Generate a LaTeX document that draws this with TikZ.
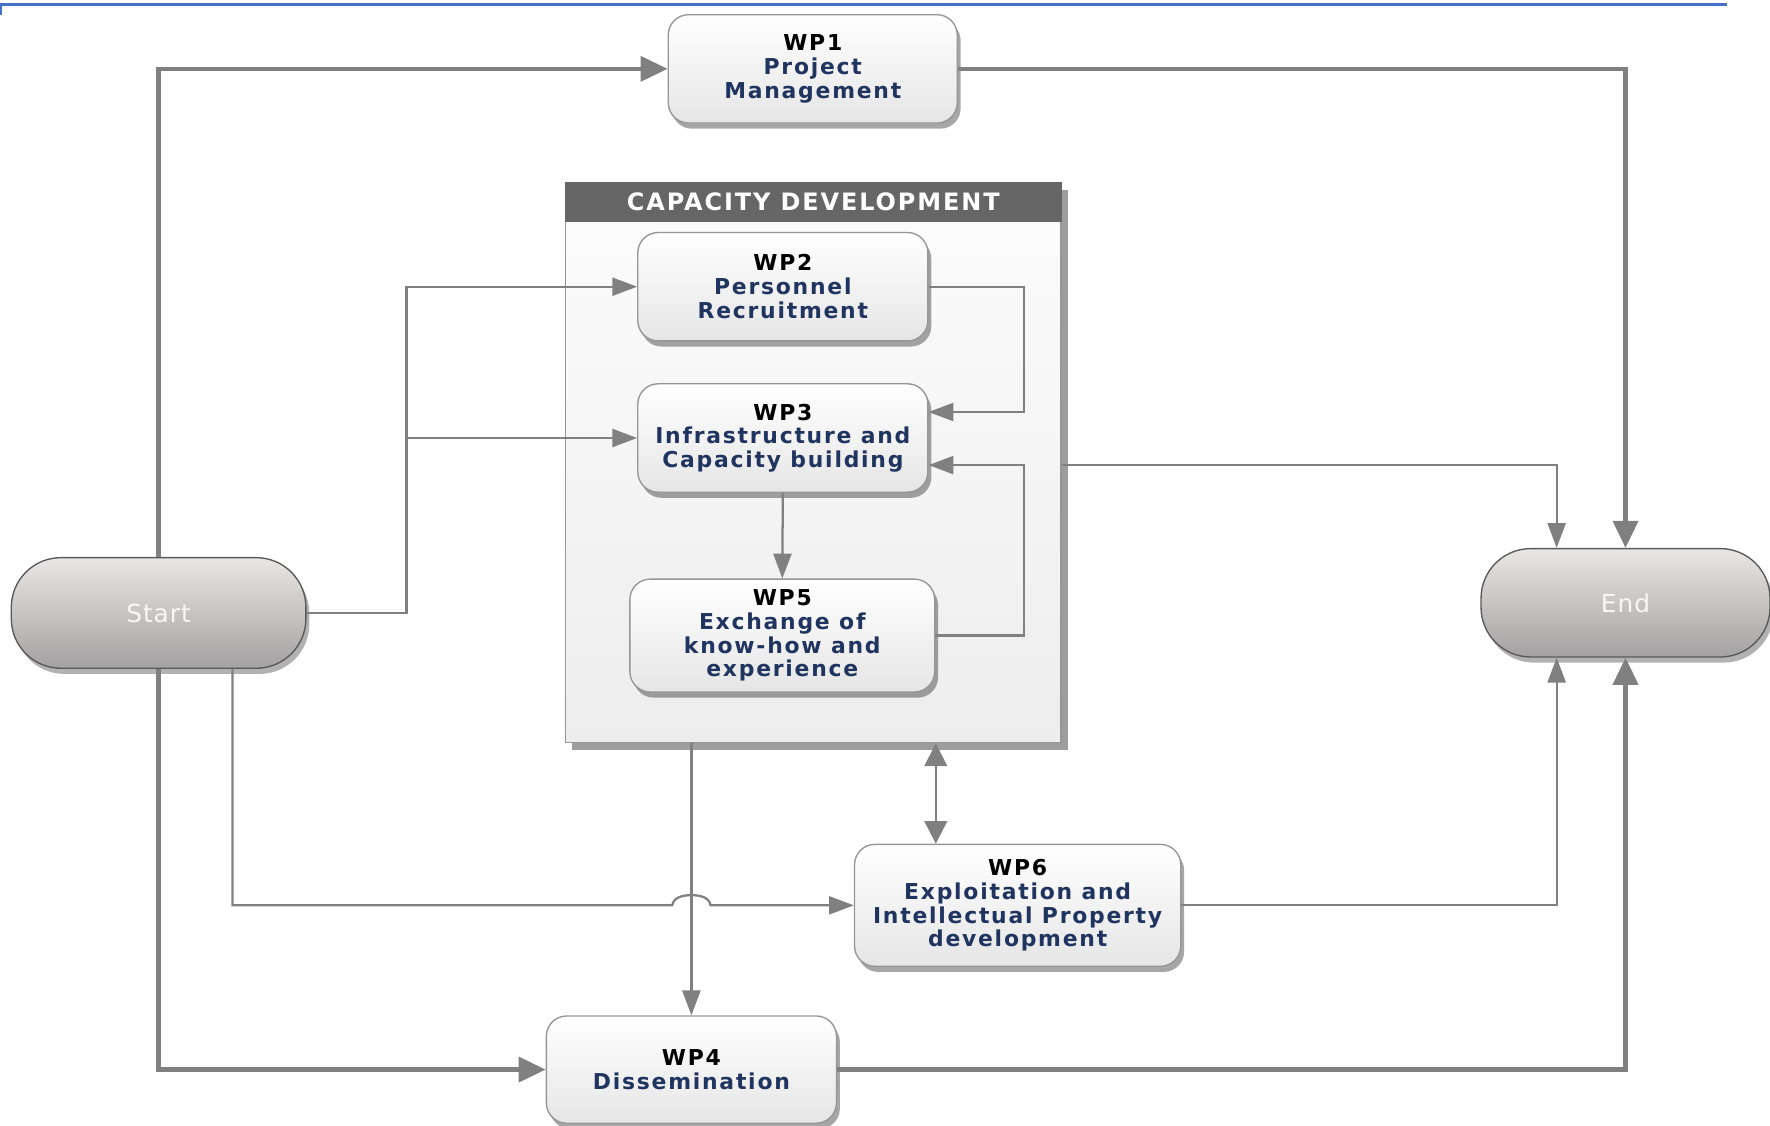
\documentclass[tikz,border=0pt]{standalone}
\usepackage{fontspec}
\setmainfont{DejaVu Sans}
\newfontfamily\wpfont[LetterSpace=8]{DejaVu Sans}
\newfontfamily\hdfont[LetterSpace=8]{DejaVu Sans}
\newfontfamily\sefont[LetterSpace=4]{DejaVu Sans}
\usetikzlibrary{arrows.meta,shadows,calc}
\definecolor{lnGray}{RGB}{128,128,128}
\definecolor{txBlue}{RGB}{32,52,96}
\definecolor{bdGray}{RGB}{150,150,150}
\definecolor{hdGray}{RGB}{102,102,102}
\definecolor{topBlue}{RGB}{68,114,196}
\definecolor{seTop}{RGB}{234,230,230}
\definecolor{seBot}{RGB}{163,161,161}
\begin{document}
\begin{tikzpicture}[x=0.5pt,y=-0.5pt,
  wpbox/.style={draw=bdGray, line width=0.6pt, rounded corners=9pt,
    top color=white, bottom color=gray!20,
    drop shadow={shadow xshift=1.5pt, shadow yshift=-2.5pt, fill=black, opacity=0.35},
    align=center, inner sep=0pt, text=txBlue,
    font=\wpfont\bfseries\fontsize{9.7}{10.5}\selectfont},
  sebox/.style={draw=gray!70!black, line width=0.6pt, rounded corners=22pt,
    top color=seTop, bottom color=seBot,
    drop shadow={shadow xshift=1.5pt, shadow yshift=-2.5pt, fill=black, opacity=0.3},
    inner sep=0pt, text=white!94!gray,
    font=\sefont\fontsize{11}{13}\selectfont},
  capbox/.style={draw=bdGray, line width=0.6pt, top color=gray!2, bottom color=gray!14,
    drop shadow={shadow xshift=3pt, shadow yshift=-3pt, fill=black!70, opacity=0.55},
    inner sep=0pt},
  hdbox/.style={fill=hdGray, draw=hdGray, inner sep=0pt, text=white,
    font=\hdfont\bfseries\fontsize{10.6}{12}\selectfont},
  thickln/.style={draw=lnGray, line width=2pt, -{Triangle[length=12pt,width=11pt]}},
  thinln/.style={draw=lnGray, line width=1pt, -{Triangle[length=11pt,width=8pt]}},
  dblln/.style={draw=lnGray, line width=1pt, {Triangle[length=10pt,width=10pt]}-{Triangle[length=10pt,width=10pt]}}
]
\useasboundingbox (0,0) rectangle (1568,997);

% top rule
\draw[topBlue, line width=1pt] (0,4) -- (1530,4);
\draw[topBlue, line width=0.8pt] (1,4) -- (1,13);

% container
\node[capbox, minimum width=219.5pt, minimum height=248pt] (cap) at (720.5,410) {};
\node[hdbox, minimum width=219.5pt, minimum height=17pt, anchor=north] (caphd) at (cap.north) {CAPACITY DEVELOPMENT};

% nodes
\node[wpbox, minimum width=128pt, minimum height=48pt] (wp1) at (720,61) {\textcolor{black}{WP1}\\Project\\Management};
\node[wpbox, minimum width=128.5pt, minimum height=48pt] (wp2) at (693.5,254) {\textcolor{black}{WP2}\\Personnel\\Recruitment};
\node[wpbox, minimum width=128.5pt, minimum height=48pt] (wp3) at (693.5,388) {\textcolor{black}{WP3}\\Infrastructure and\\Capacity building};
\node[wpbox, minimum width=135pt, minimum height=50pt] (wp5) at (693,563) {\textcolor{black}{WP5}\\Exchange of\\know-how and\\experience};
\node[wpbox, minimum width=144.5pt, minimum height=54pt] (wp6) at (901.5,802) {\textcolor{black}{WP6}\\Exploitation and\\Intellectual Property\\development};
\node[wpbox, minimum width=128.5pt, minimum height=47.5pt] (wp4) at (612.5,947.5) {\textcolor{black}{WP4}\\Dissemination};
\node[sebox, minimum width=130.5pt, minimum height=49pt] (start) at (140.5,543) {Start};
\node[sebox, minimum width=128pt, minimum height=48pt] (end) at (1440,534) {End};

% channel coordinates
\coordinate (busx) at (360,0);
\coordinate (fbx) at (907,0);
\coordinate (ex) at (1379,0);
\coordinate (sx) at (206,0);
\coordinate (dx) at (829,0);
\coordinate (hop) at (wp4.north |- wp6.west);
\coordinate (in1) at ([yshift=11.5pt]wp3.east);
\coordinate (in2) at ([yshift=-12pt]wp3.east);
\coordinate (cout) at ([yshift=-1pt]cap.east);

% thick connectors
\draw[thickln] (start.north) |- (wp1.west);
\draw[thickln] (wp1.east) -| (end.north);
\draw[thickln] (start.south) |- (wp4.west);
\draw[thickln] (wp4.east) -| (end.south);

% thin connectors
\draw[thinln] (start.east) -| (busx |- wp2.west) -- (wp2.west);
\draw[thinln] (busx |- wp3.west) -- (wp3.west);
\draw[thinln] (wp2.east) -| (fbx |- in1) -- (in1);
\draw[thinln] (wp5.east) -| (fbx |- in2) -- (in2);
\draw[thinln] (wp3.south) -- (wp5.north);
\draw[thinln] (cout) -| (ex |- end.north);
\draw[thinln] (cap.south -| wp4.north) -- (wp4.north);
\draw[thinln] (sx |- start.south) |- ([xshift=-8.5pt]hop)
   to[out=80,in=180] ([yshift=4.5pt]hop) to[out=0,in=100] ([xshift=8.5pt]hop) -- (wp6.west);
\draw[dblln] (dx |- cap.south) -- (dx |- wp6.north);
\draw[thinln] (wp6.east) -| (ex |- end.south);
\end{tikzpicture}
\end{document}
